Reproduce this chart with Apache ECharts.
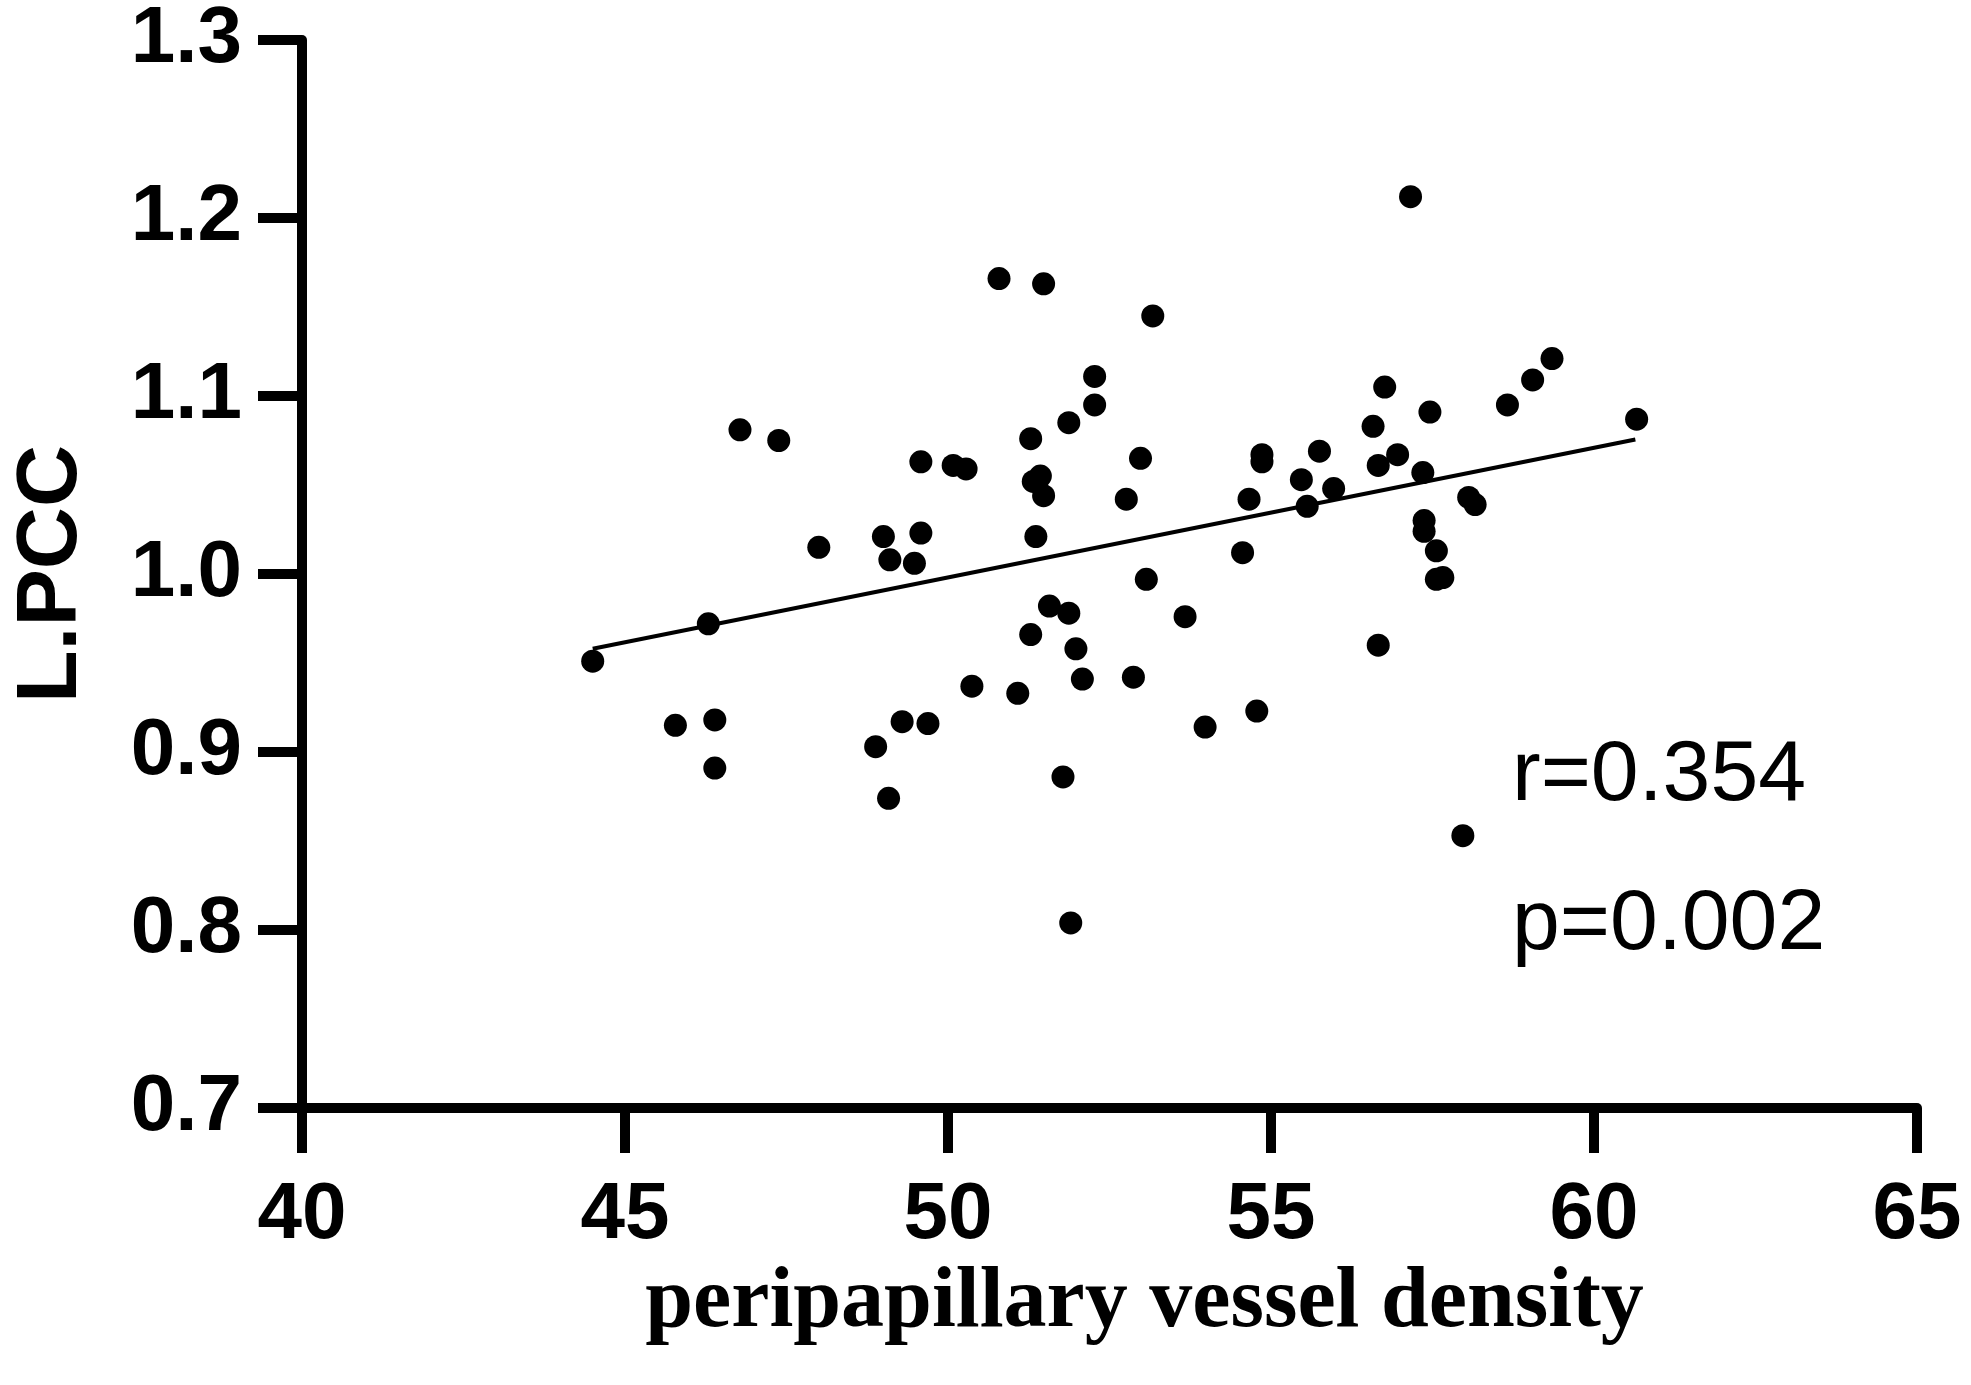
<!DOCTYPE html>
<html>
<head>
<meta charset="UTF-8">
<title>L.PCC vs peripapillary vessel density</title>
<script src="https://cdn.jsdelivr.net/npm/echarts@6/dist/echarts.min.js"></script>
<style>
  html, body { margin: 0; padding: 0; background: #fff; }
  #main { width: 1971px; height: 1385px; }
</style>
</head>
<body>
<div id="main"></div>
<script>
// peripapillary vessel density (x) and L.PCC (y)
var pvd = [
  44.50, 46.29, 45.78, 46.39, 46.39, 46.78, 47.38, 48.00, 48.88, 49.00,
  49.10, 49.08, 49.29, 49.48, 49.58, 49.58, 49.69, 50.08, 50.28, 50.37,
  50.79, 51.08, 51.28, 51.28, 51.32, 51.36, 51.48, 51.43, 51.48, 51.57,
  51.78, 51.87, 51.87, 51.98, 51.90, 52.08, 52.27, 52.27, 52.76, 52.87,
  52.98, 53.07, 53.17, 53.67, 53.98, 54.56, 54.66, 54.78, 54.86, 54.86,
  55.47, 55.56, 55.75, 55.97, 56.58, 56.66, 56.66, 56.76, 56.96, 57.16,
  57.35, 57.37, 57.37, 57.46, 57.56, 57.56, 57.66, 57.97, 58.06, 58.16,
  58.66, 59.05, 59.35, 60.66
];
var lpcc = [
  0.951, 0.972, 0.915, 0.918, 0.891, 1.081, 1.075, 1.015, 0.903, 1.021,
  1.008, 0.874, 0.917, 1.006, 1.023, 1.063, 0.916, 1.061, 1.059, 0.937,
  1.166, 0.933, 1.076, 0.966, 1.052, 1.021, 1.163, 1.055, 1.044, 0.982,
  0.886, 1.085, 0.978, 0.958, 0.804, 0.941, 1.111, 1.095, 1.042, 0.942,
  1.065, 0.997, 1.145, 0.976, 0.914, 1.012, 1.042, 0.923, 1.067, 1.063,
  1.053, 1.038, 1.069, 1.048, 1.083, 1.061, 0.960, 1.105, 1.067, 1.212,
  1.057, 1.030, 1.024, 1.091, 1.013, 0.997, 0.998, 0.853, 1.043, 1.039,
  1.095, 1.109, 1.121, 1.087
];

// fitted regression line end points
var fitX = [44.50, 60.64];
var fitY = [0.958, 1.0756];

var xTicks = [40, 45, 50, 55, 60, 65];
var yTicks = [0.7, 0.8, 0.9, 1.0, 1.1, 1.2, 1.3];

var statLines = ['r=0.354', 'p=0.002'];

var points = pvd.map(function (x, i) { return [x, lpcc[i]]; });
var fitLine = fitX.map(function (x, i) { return [x, fitY[i]]; });

var chart = echarts.init(document.getElementById('main'), null, { renderer: 'canvas' });

var tickFont = {
  color: '#000',
  fontFamily: 'Liberation Sans, Arial, sans-serif',
  fontWeight: 'bold',
  fontSize: 80
};

var option = {
  backgroundColor: '#fff',
  animation: false,
  grid: { left: 302, right: 54, top: 35, bottom: 277, containLabel: false },
  xAxis: {
    type: 'value',
    min: xTicks[0],
    max: xTicks[xTicks.length - 1],
    interval: 5,
    name: 'peripapillary vessel density',
    nameLocation: 'middle',
    nameGap: 148,
    nameTextStyle: {
      color: '#000',
      fontFamily: 'Liberation Serif, Times New Roman, serif',
      fontWeight: 'bold',
      fontSize: 86,
      padding: [0, 0, 0, 70]
    },
    axisLine: { onZero: false, lineStyle: { color: '#000', width: 10 } },
    axisTick: { show: true, length: 45, lineStyle: { color: '#000', width: 10 } },
    axisLabel: Object.assign({ margin: 68 }, tickFont),
    splitLine: { show: false }
  },
  yAxis: {
    type: 'value',
    min: yTicks[0],
    max: yTicks[yTicks.length - 1],
    interval: 0.1,
    name: 'L.PCC',
    nameLocation: 'middle',
    nameGap: 207,
    nameRotate: 90,
    nameTextStyle: {
      color: '#000',
      fontFamily: 'Liberation Sans, Arial, sans-serif',
      fontWeight: 'bold',
      fontSize: 86
    },
    axisLine: { onZero: false, lineStyle: { color: '#000', width: 10 } },
    axisTick: { show: true, length: 44, lineStyle: { color: '#000', width: 10 } },
    axisLabel: Object.assign({
      margin: 60,
      formatter: function (v) { return v.toFixed(1); }
    }, tickFont),
    splitLine: { show: false }
  },
  series: [
    {
      type: 'line',
      data: fitLine,
      symbol: 'none',
      lineStyle: { color: '#000', width: 4 },
      z: 2
    },
    {
      type: 'scatter',
      data: points,
      symbol: 'circle',
      symbolSize: 23,
      itemStyle: { color: '#000', opacity: 1 },
      z: 3
    }
  ],
  graphic: statLines.map(function (t, i) {
    return {
      type: 'text',
      left: 1512,
      top: 733 + i * 149,
      style: {
        text: t,
        fill: '#000',
        fontFamily: 'Liberation Sans, Arial, sans-serif',
        fontSize: 86
      }
    };
  })
};

chart.setOption(option);
</script>
</body>
</html>
